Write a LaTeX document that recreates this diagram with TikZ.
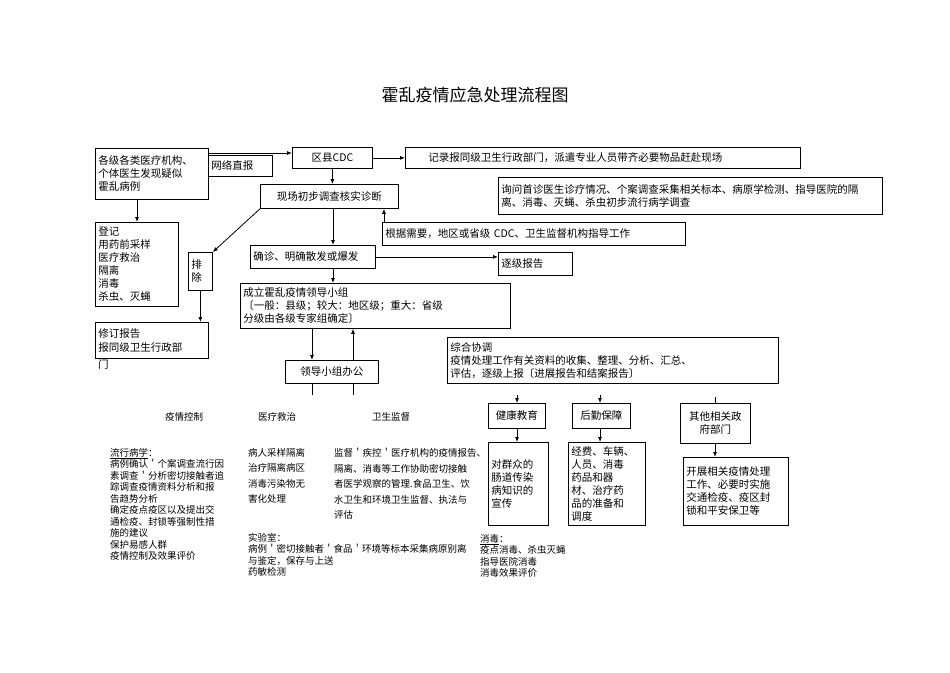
\documentclass[tikz,border=0pt]{standalone}
\usepackage{fontspec}
\setmainfont{Noto Sans CJK SC}
\usetikzlibrary{arrows.meta,positioning}
\tikzset{
  box/.style = {draw, line width=0.8pt, anchor=north west, inner sep=3pt, font=\fontsize{10.5}{13}\selectfont, align=left},
  note/.style = {anchor=north west, inner sep=0pt, font=\fontsize{9.5}{11.5}\selectfont, align=left},
  arr/.style = {-{Latex[length=5pt,width=4pt]}, line width=0.8pt}
}
\newcommand{\bx}[6]{\node[box, text width=#4pt-6pt, minimum height=#5pt] (#1) at (#2,#3) {#6};}
\begin{document}
\begin{tikzpicture}[x=1pt,y=-1pt]
\useasboundingbox (0,0) rectangle (950,672);
\node[font=\fontsize{17}{20}\selectfont] (title) at (475,95) {霍乱疫情应急处理流程图};
% top row
\bx{src}{95}{148}{113}{51}{各级各类医疗机构、\\个体医生发现疑似\\霍乱病例}
\bx{net}{208}{155}{64}{21}{网络直报}
\node[box, text width=74pt, minimum height=21pt, align=center] (cdc) at (292,147) {区县CDC};
\bx{rec}{405}{147}{395}{21}{\hspace{20pt}记录报同级卫生行政部门，派遣专业人员带齐必要物品赶赴现场}
\bx{ask}{498}{177}{384}{37}{询问首诊医生诊疗情况、个案调查采集相关标本、病原学检测、指导医院的隔\\离、消毒、灭蝇、杀虫初步流行病学调查}
\node[box, text width=132pt, minimum height=24pt, align=center] (site) at (260,184) {现场初步调查核实诊断};
\bx{guide}{382}{222}{303}{23}{根据需要，地区或省级 CDC、卫生监督机构指导工作}
% left branch
\bx{reg}{95}{222}{83}{84}{登记\\用药前采样\\医疗救治\\隔离\\消毒\\杀虫、灭蝇}
\node[box, text width=18pt, minimum height=38pt, anchor=north west, align=left] (excl) at (188,252) {排\\除};
\node[box, text width=107pt, minimum height=36pt, anchor=north west, font=\fontsize{10.5}{14}\selectfont] (rev) at (95,322) {修订报告\\报同级卫生行政部};
\node[note, font=\fontsize{10.5}{13}\selectfont] (revend) at (98,359) {门};
% middle branch
\bx{conf}{250}{245}{125}{23}{确诊、明确散发或爆发}
\bx{step}{498}{252}{74}{23}{逐级报告}
\bx{lead}{240}{283}{270}{45}{成立霍乱疫情领导小组\\〔一般：县级；较大：地区级；重大：省级\\分级由各级专家组确定〕}
\node[box, text width=87pt, minimum height=23pt, align=center] (office) at (285,360) {领导小组办公};
\bx{coord}{447}{337}{331}{46}{综合协调\\疫情处理工作有关资料的收集、整理、分析、汇总、\\评估，逐级上报〔进展报告和结案报告〕}
% lower boxes
\node[box, text width=51pt, minimum height=25pt, align=center] (edu) at (488,403) {健康教育};
\bx{edu2}{488}{442}{60}{83}{对群众的\\肠道传染\\病知识的\\宣传}
\node[box, text width=52pt, minimum height=25pt, align=center] (log) at (572,403) {后勤保障};
\bx{log2}{568}{442}{77}{83}{经费、车辆、\\人员、消毒\\药品和器\\材、治疗药\\品的准备和\\调度}
\node[box, text width=64pt, minimum height=40pt, align=center] (gov) at (680,403) {其他相关政\\府部门};
\bx{gov2}{683}{457}{105}{68}{开展相关疫情处理\\工作、必要时实施\\交通检疫、疫区封\\锁和平安保卫等}
% free ends
\coordinate (c1) at (312,395); \coordinate (c2) at (353,395);
\coordinate (e0) at (517,395); \coordinate (l0) at (600,395); \coordinate (g0) at (715,397);
% connectors
\draw[arr] (src.north east |- 0,153) -- (cdc.west |- 0,153);
\draw[arr] (cdc.east) -- (rec.west);
\draw[arr] (cdc.south) -- (site.north -| cdc.south);
\draw[arr] (src.south -| 137,0) -- (reg.north -| 137,0);
\draw[arr] (site.south west) -- (excl.north east);
\draw[arr] (excl.south) -- (rev.north -| excl.south);
\draw[arr] (guide.north west) ++(2,0) -- (site.south -| 384,0);
\draw[arr] (site.south -| 333,0) -- (conf.north -| 333,0);
\draw[arr] (conf.east) -- (step.west |- conf.east);
\draw[arr] (conf.south -| 333,0) -- (lead.north -| 333,0);
\draw[arr] (lead.south -| 312,0) -- (office.north -| 312,0);
\draw[arr] (office.north -| 353,0) -- (lead.south -| 353,0);
\draw[line width=0.8pt] (office.south -| 312,0) -- (c1);
\draw[line width=0.8pt] (office.south -| 353,0) -- (c2);
\draw[arr] (e0) -- (edu.north -| e0);
\draw[arr] (l0) -- (log.north -| l0);
\draw[line width=0.5pt] (g0) -- (gov.north -| g0);
\draw[arr] (edu.south -| e0) -- (edu2.north -| e0);
\draw[arr] (log.south -| l0) -- (log2.north -| l0);
\draw[arr] (gov.south -| g0) -- (gov2.north -| g0);
% column texts
\node[note] (t1) at (165,412) {疫情控制};
\node[note] (t2) at (258,412) {医疗救治};
\node[note] (t3) at (372,412) {卫生监督};
\node[note] (epi) at (110,448) {\underline{流行病学}：\\病例确认＇个案调查流行因\\素调查＇分析密切接触者追\\踪调查疫情资料分析和报\\告趋势分析\\确定疫点疫区以及提出交\\通检疫、封锁等强制性措\\施的建议\\保护易感人群\\疫情控制及效果评价};
\node[note, font=\fontsize{9.5}{15.5}\selectfont] (med) at (248,448) {病人采样隔离\\治疗隔离病区\\消毒污染物无\\害化处理};
\node[note, font=\fontsize{9.5}{15.5}\selectfont] (sup) at (334,448) {监督＇疾控＇医疗机构的疫情报告、\\隔离、消毒等工作协助密切接触\\者医学观察的管理.食品卫生、饮\\水卫生和环境卫生监督、执法与\\评估};
\node[note] (lab) at (248,533) {实验室：\\病例＇密切接触者＇食品＇环境等标本采集病原别离\\与鉴定，保存与上送\\药敏检测};
\node[note] (dis) at (480,534) {\underline{消毒}：\\疫点消毒、杀虫灭蝇\\指导医院消毒\\消毒效果评价};
\end{tikzpicture}
\end{document}
